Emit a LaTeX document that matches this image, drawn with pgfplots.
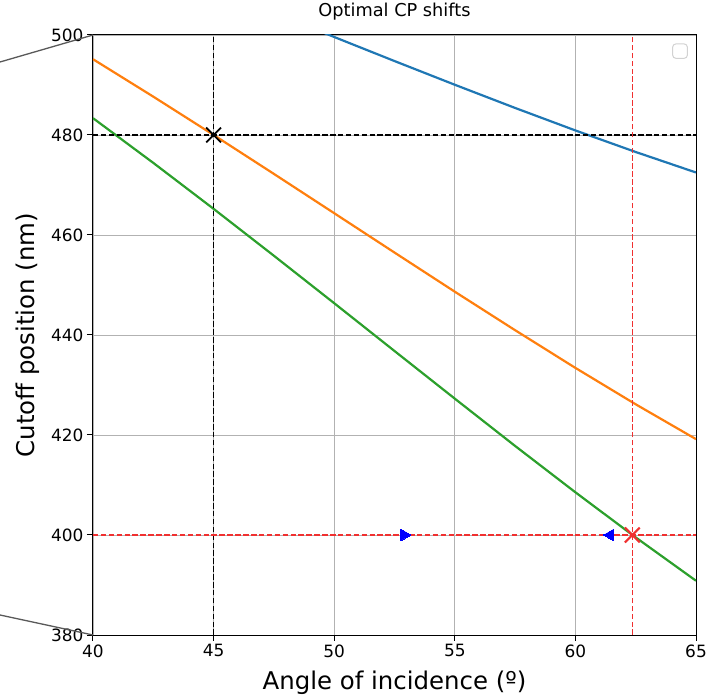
\documentclass[border=0pt]{standalone}
\usepackage{fontspec}
\setmainfont{DejaVu Sans}
\usepackage{pgfplots}
\pgfplotsset{compat=1.18}
\definecolor{mplblue}{HTML}{1F77B4}
\definecolor{mplorange}{HTML}{FF7F0E}
\definecolor{mplgreen}{HTML}{2CA02C}
\definecolor{mplred}{HTML}{F03030}
\begin{document}
\begin{tikzpicture}
\begin{axis}[name=ax,
  scale only axis, width=603bp, height=600bp,
  xmin=40, xmax=65, ymin=380, ymax=500,
  xtick={40,45,50,55,60,65}, ytick={380,400,420,440,460,480,500},
  tick pos=left,
  grid=major, major grid style={color=gray!60, line width=0.9bp},
  axis line style={black, line width=1bp},
  tick align=outside, major tick length=6bp,
  tick style={black, line width=1bp},
  /pgf/number format/assume math mode=true,
  ticklabel style={font=\fontsize{17}{17}\selectfont},
  title={Optimal CP shifts},
  title style={font=\fontsize{17.8}{18}\selectfont, at={(rel axis cs:0.5,1.0283)}, anchor=center},
  xlabel={Angle of incidence (º)},
  ylabel={Cutoff position (nm)},
  xlabel style={font=\fontsize{24.5}{25}\selectfont, at={(rel axis cs:0.5,-0.08)}, anchor=center},
  ylabel style={font=\fontsize{24.5}{25}\selectfont, at={(rel axis cs:-0.1078,0.5)}, anchor=center},
]
% curves
\addplot[mplblue, line width=2.2bp] coordinates {
(47.5,504.44) (50,499.60) (52.5,494.79) (55,490.05) (57.5,485.41) (60,480.91) (62.5,476.60) (65,472.50)};
\addplot[mplorange, line width=2.2bp] coordinates {
(40,495.16) (42.5,487.67) (45,480.01) (47.5,472.22) (50,464.36) (52.5,456.49) (55,448.66) (57.5,440.96) (60,433.42) (62.5,426.14) (65,419.17)};
\addplot[mplgreen, line width=2.2bp] coordinates {
(40,483.37) (42.5,474.42) (45,465.23) (47.5,455.85) (50,446.36) (52.5,436.80) (55,427.27) (57.5,417.81) (60,408.54) (62.5,399.52) (65,390.85)};
% reference lines
\addplot[black, line width=1.4bp, dash pattern=on 5.5bp off 2.4bp] coordinates {(45,380) (45,500)};
\addplot[black, line width=1.4bp, dash pattern=on 5.5bp off 2.4bp] coordinates {(40,480) (65,480)};
\addplot[mplred, line width=1.4bp, dash pattern=on 5.5bp off 2.4bp] coordinates {(62.36,380) (62.36,500)};
\addplot[mplred, line width=1.4bp, dash pattern=on 5.5bp off 2.4bp] coordinates {(40,400) (65,400)};
% markers
\addplot[only marks, mark=x, mark size=10.5bp, mark options={black, line width=1.9bp}] coordinates {(45,480)};
\addplot[only marks, mark=x, mark size=10.5bp, mark options={mplred, line width=2.1bp}] coordinates {(62.36,400)};
\addplot[only marks, mark=triangle*, mark size=6.8bp, mark options={blue, fill=blue, rotate=-90, line width=0pt}] coordinates {(52.9,400)};
\addplot[only marks, mark=triangle*, mark size=6.8bp, mark options={blue, fill=blue, rotate=90, line width=0pt}] coordinates {(61.45,400)};
% empty legend frame
\draw[gray!35, line width=1bp, rounded corners=3bp, fill=white] (rel axis cs:0.9614,0.9612) rectangle (rel axis cs:0.9856,0.985);
\end{axis}
\draw[black!65, line width=1.3bp] (ax.north west) -- ([xshift=-93bp,yshift=-27bp]ax.north west);
\draw[black!65, line width=1.3bp] (ax.south west) -- ([xshift=-93bp,yshift=20bp]ax.south west);
\pgfresetboundingbox
\path ([xshift=-93bp,yshift=-63bp]ax.south west) rectangle ([xshift=16bp,yshift=35bp]ax.north east);
\end{tikzpicture}
\end{document}
